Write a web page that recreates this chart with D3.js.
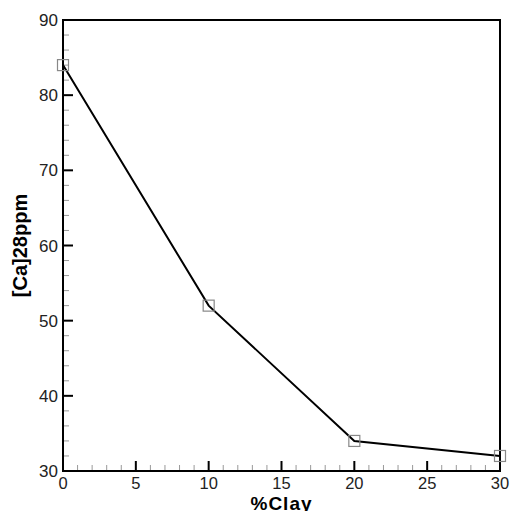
<!DOCTYPE html>
<html>
<head>
<meta charset="utf-8">
<script src="https://cdn.jsdelivr.net/npm/d3@7"></script>
<style>
body { margin: 0; background: #fff; }
text { font-family: "Liberation Sans", Arial, sans-serif; }
</style>
</head>
<body>
<script>
// data
var clay = [0, 10, 20, 30];
var ca = [84, 52, 34, 32];
var xTicks = [0, 5, 10, 15, 20, 25, 30];
var yTicks = [30, 40, 50, 60, 70, 80, 90];

var W = 512, H = 511;
var pLeft = 63, pTop = 20, pRight = 500, pBottom = 471;

var svg = d3.select("body").append("svg")
    .attr("width", W)
    .attr("height", H);

var x = d3.scaleLinear().domain([0, 30]).range([pLeft, pRight]);
var y = d3.scaleLinear().domain([30, 90]).range([pBottom, pTop]);

//minor ticks (gray, inside)
svg.selectAll("line.xminor")
    .data(d3.range(0, 31, 1).filter(function(d){return d % 5 != 0;}))
    .enter().append("line")
    .attr("class", "xminor")
    .attr("x1", function(d){return x(d);})
    .attr("x2", function(d){return x(d);})
    .attr("y1", pBottom)
    .attr("y2", pBottom - 6)
    .style("stroke", "#999")
    .style("stroke-width", 1);

svg.selectAll("line.yminor")
    .data(d3.range(30, 91, 2).filter(function(d){return d % 10 != 0;}))
    .enter().append("line")
    .attr("class", "yminor")
    .attr("y1", function(d){return y(d);})
    .attr("y2", function(d){return y(d);})
    .attr("x1", pLeft)
    .attr("x2", pLeft + 6)
    .style("stroke", "#999")
    .style("stroke-width", 1);

//major ticks
svg.selectAll("line.xmajor")
    .data(xTicks)
    .enter().append("line")
    .attr("class", "xmajor")
    .attr("x1", function(d){return x(d);})
    .attr("x2", function(d){return x(d);})
    .attr("y1", pBottom)
    .attr("y2", pBottom - 10)
    .style("stroke", "#000")
    .style("stroke-width", 2);

svg.selectAll("line.ymajor")
    .data(yTicks)
    .enter().append("line")
    .attr("class", "ymajor")
    .attr("y1", function(d){return y(d);})
    .attr("y2", function(d){return y(d);})
    .attr("x1", pLeft)
    .attr("x2", pLeft + 10)
    .style("stroke", "#000")
    .style("stroke-width", 2);

//frame
svg.append("rect")
    .attr("x", pLeft)
    .attr("y", pTop)
    .attr("width", pRight - pLeft)
    .attr("height", pBottom - pTop)
    .style("fill", "none")
    .style("stroke", "#000")
    .style("stroke-width", 2);

//tick labels
svg.selectAll("text.xlab")
    .data(xTicks)
    .enter().append("text")
    .attr("class", "xlab")
    .attr("x", function(d){return x(d);})
    .attr("y", pBottom + 18)
    .attr("text-anchor", "middle")
    .style("font-size", "16.5px")
    .style("fill", "#222")
    .text(function(d){return d;});

svg.selectAll("text.ylab")
    .data(yTicks)
    .enter().append("text")
    .attr("class", "ylab")
    .attr("x", pLeft - 5)
    .attr("y", function(d){return y(d);})
    .attr("dy", 6)
    .attr("text-anchor", "end")
    .style("font-size", "17px")
    .style("fill", "#222")
    .text(function(d){return d;});

//axis titles
svg.append("text")
    .attr("x", (pLeft + pRight) / 2)
    .attr("y", pBottom + 39)
    .attr("text-anchor", "middle")
    .style("font-size", "19px")
    .style("font-weight", "bold")
    .style("letter-spacing", "1px")
    .text("%Clay");

svg.append("text")
    .attr("transform", "translate(27," + (pTop + pBottom) / 2 + ") rotate(-90)")
    .attr("text-anchor", "middle")
    .style("font-size", "20px")
    .style("font-weight", "bold")
    .text("[Ca]28ppm");

//the line
var pts = clay.map(function(c, i){return [c, ca[i]];});
svg.append("path")
    .datum(pts)
    .attr("d", d3.line().x(function(d){return x(d[0]);}).y(function(d){return y(d[1]);}))
    .style("fill", "none")
    .style("stroke", "#000")
    .style("stroke-width", 2);

//square markers
svg.selectAll("rect.mark")
    .data(pts)
    .enter().append("rect")
    .attr("class", "mark")
    .attr("x", function(d){return x(d[0]) - 5.5;})
    .attr("y", function(d){return y(d[1]) - 5.5;})
    .attr("width", 11)
    .attr("height", 11)
    .style("fill", "none")
    .style("stroke", "#888")
    .style("stroke-width", 1.2);
</script>
</body>
</html>
